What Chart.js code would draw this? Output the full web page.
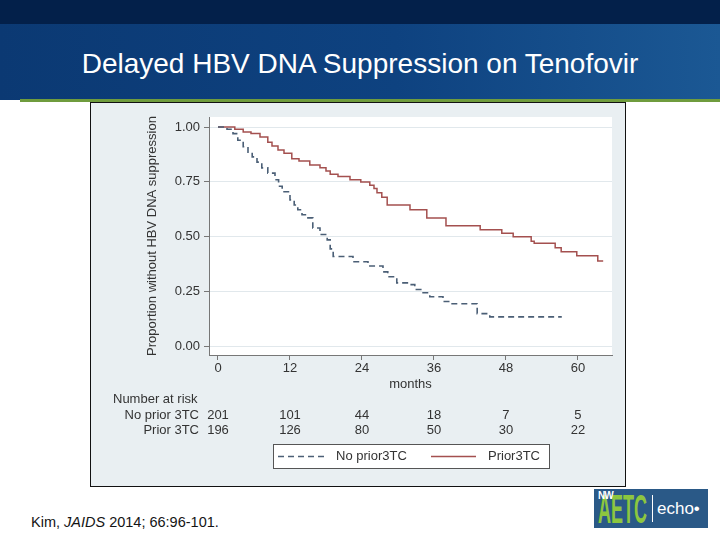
<!DOCTYPE html>
<html>
<head>
<meta charset="utf-8">
<script src="https://cdn.jsdelivr.net/npm/chart.js@4.4.0/dist/chart.umd.min.js"></script>
<style>
  html, body { margin: 0; padding: 0; }
  body { width: 720px; height: 540px; position: relative; overflow: hidden; background: #fff; font-family: "Liberation Sans", Arial, sans-serif; }
  .topBar { position: absolute; left: 0; top: 0; width: 720px; height: 24px; background: #03204a; }
  .titleBand { position: absolute; left: 0; top: 24px; width: 720px; height: 76px; background: linear-gradient(90deg, #0b3973 0%, #0e4280 55%, #1b5894 100%); }
  .greenLine { position: absolute; left: 20px; top: 99px; width: 700px; height: 3px; background: #6f9c3d; }
  .title { position: absolute; left: 0; top: 47px; width: 720px; text-align: center; color: #fff; font-size: 28px; line-height: 34px; }
  .chartBox { position: absolute; left: 90px; top: 102px; width: 534px; height: 383px; border: 1px solid #111; background: #e9eff2; }
  .cite { position: absolute; left: 31px; top: 514px; font-size: 14.5px; line-height: 16px; color: #141414; }
  .logo { position: absolute; left: 594px; top: 489px; width: 114px; height: 39px; background: #2a5987; overflow: hidden; }
  .logo .aetc { position: absolute; left: 4px; top: 0; font-size: 40px; line-height: 40px; font-weight: bold; color: #8cc63f; transform: scaleX(0.45); transform-origin: left top; }
  .logo .nw { position: absolute; left: 4px; top: 1px; font-size: 10px; font-weight: bold; color: #fff; letter-spacing: -1px; }
  .logo .sep { position: absolute; left: 58px; top: 6px; width: 1px; height: 27px; background: #fff; }
  .logo .echo { position: absolute; left: 63px; top: 10px; font-size: 17px; color: #fff; }
</style>
</head>
<body>
<div class="topBar"></div>
<div class="titleBand"></div>
<div class="greenLine"></div>
<div class="title">Delayed HBV DNA Suppression on Tenofovir</div>
<div class="chartBox"><canvas id="kmChart" width="534" height="383"></canvas></div>
<div class="cite">Kim, <i>JAIDS</i> 2014; 66:96-101.</div>
<div class="logo"><span class="aetc">AETC</span><span class="nw">NW</span><span class="sep"></span><span class="echo">echo&#8226;</span></div>

<script>
/* data */

const noPriorMonths = [0, 1.5, 2.5, 3.3, 4.2, 5.0, 5.7, 6.5, 7.3, 8.3, 9.5, 10.1, 10.7, 12.0, 12.7, 13.3, 14.0, 14.8, 15.8, 17.0, 18.2, 18.7, 19.2, 22.5, 25.0, 27.5, 28.3, 29.8, 31.7, 32.8, 34.0, 35.3, 37.5, 38.7, 43.2, 45.3, 57.3];
const noPriorSurv = [1.00, 0.99, 0.97, 0.94, 0.91, 0.885, 0.864, 0.84, 0.814, 0.79, 0.76, 0.73, 0.705, 0.668, 0.645, 0.623, 0.60, 0.586, 0.54, 0.51, 0.486, 0.445, 0.41, 0.386, 0.367, 0.34, 0.318, 0.29, 0.282, 0.26, 0.245, 0.227, 0.205, 0.195, 0.15, 0.135, 0.135];

const priorMonths = [0, 2.8, 4.2, 5.5, 7.0, 8.3, 9.0, 10.0, 11.0, 12.3, 13.5, 15.3, 17.0, 18.0, 18.7, 20.0, 22.0, 23.8, 25.3, 26.0, 26.5, 27.3, 28.2, 32.0, 34.8, 38.0, 43.7, 47.3, 49.2, 52.2, 52.7, 56.2, 57.2, 59.8, 63.3, 64.2];
const priorSurv = [1.00, 0.99, 0.977, 0.97, 0.955, 0.93, 0.914, 0.895, 0.88, 0.855, 0.845, 0.827, 0.814, 0.80, 0.785, 0.775, 0.76, 0.75, 0.735, 0.72, 0.70, 0.68, 0.645, 0.623, 0.586, 0.55, 0.532, 0.516, 0.50, 0.48, 0.47, 0.45, 0.432, 0.414, 0.39, 0.39];

const riskTimes = [0, 12, 24, 36, 48, 60];
const riskNoPrior = [201, 101, 44, 18, 7, 5];
const riskPrior = [196, 126, 80, 50, 30, 22];

const xTicks = [0, 12, 24, 36, 48, 60];
const yTicks = [0, 0.25, 0.5, 0.75, 1];

const textFont = { family: '"Liberation Sans", Arial, sans-serif', size: 13 };
const textColor = '#333';
const axisColor = '#777';

function toPoints(xs, ys) {
    return xs.map(function(x, i) { return { x: x, y: ys[i] }; });
}

/* white plot region */
const plotBackground = {
    id: 'plotBackground',
    beforeDraw: function(chart) {
        const a = chart.chartArea;
        chart.ctx.save();
        chart.ctx.fillStyle = '#fff';
        chart.ctx.fillRect(a.left, a.top, a.right - a.left, a.bottom - a.top);
        chart.ctx.restore();
    }
};

/* number at risk table + boxed legend */
const riskTable = {
    id: 'riskTable',
    afterDraw: function(chart) {
        const ctx = chart.ctx;
        const a = chart.chartArea;
        const xs = chart.scales.x;
        ctx.save();
        ctx.font = '13px "Liberation Sans", Arial, sans-serif';
        ctx.fillStyle = textColor;
        ctx.textBaseline = 'middle';

        ctx.textAlign = 'left';
        ctx.fillText('Number at risk', a.left - 96, a.bottom + 44);

        ctx.textAlign = 'right';
        ctx.fillText('No prior 3TC', a.left - 10, a.bottom + 60);
        ctx.fillText('Prior 3TC', a.left - 10, a.bottom + 75);

        ctx.textAlign = 'center';
        riskTimes.forEach(function(t, i) {
            const px = xs.getPixelForValue(t);
            ctx.fillText(String(riskNoPrior[i]), px, a.bottom + 60);
            ctx.fillText(String(riskPrior[i]), px, a.bottom + 75);
        });

        // legend
        const boxW = 276, boxH = 24;
        const boxL = Math.round((a.left + a.right) / 2 - boxW / 2);
        const boxT = a.bottom + 89;
        ctx.fillStyle = '#fff';
        ctx.fillRect(boxL, boxT, boxW, boxH);
        ctx.strokeStyle = '#555';
        ctx.lineWidth = 1;
        ctx.strokeRect(boxL + 0.5, boxT + 0.5, boxW, boxH);

        const midY = boxT + boxH / 2 + 0.5;
        const items = [
            { ds: chart.data.datasets[0], x0: 5, x1: 55, tx: 63 },
            { ds: chart.data.datasets[1], x0: 158, x1: 203, tx: 215 }
        ];
        items.forEach(function(it) {
            ctx.beginPath();
            ctx.strokeStyle = it.ds.borderColor;
            ctx.lineWidth = it.ds.borderWidth;
            ctx.setLineDash(it.ds.borderDash || []);
            ctx.moveTo(boxL + it.x0, midY);
            ctx.lineTo(boxL + it.x1, midY);
            ctx.stroke();
            ctx.setLineDash([]);
            ctx.fillStyle = textColor;
            ctx.textAlign = 'left';
            ctx.fillText(it.ds.label, boxL + it.tx, midY);
        });
        ctx.restore();
    }
};

const ctx = document.getElementById('kmChart').getContext('2d');

const chart = new Chart(ctx, {
    type: 'line',
    data: {
        datasets: [{
            label: 'No prior3TC',
            data: toPoints(noPriorMonths, noPriorSurv),
            borderColor: '#4b5f76',
            borderWidth: 1.6,
            borderDash: [6, 4],
            stepped: true,
            pointRadius: 0,
            fill: false
        },
        {
            label: 'Prior3TC',
            data: toPoints(priorMonths, priorSurv),
            borderColor: '#a4504f',
            borderWidth: 1.5,
            stepped: true,
            pointRadius: 0,
            fill: false
        }]
    },
    options: {
        responsive: false,
        animation: false,
        devicePixelRatio: 1,
        layout: { padding: { left: 48, right: 13, top: 14, bottom: 91 } },
        plugins: {
            legend: { display: false },
            tooltip: { enabled: false }
        },
        scales: {
            x: {
                type: 'linear',
                min: -1.5,
                max: 65.67,
                afterBuildTicks: function(s) { s.ticks = xTicks.map(function(v) { return { value: v }; }); },
                afterFit: function(s) { s.height = 40; },
                ticks: { font: textFont, color: textColor, padding: 1, maxRotation: 0 },
                grid: { drawOnChartArea: false, tickLength: 5, tickColor: axisColor },
                border: { color: axisColor, width: 1 },
                title: { display: true, text: 'months', font: textFont, color: textColor, padding: { top: 0, bottom: 3 } }
            },
            y: {
                type: 'linear',
                min: -0.0387,
                max: 1.0456,
                afterBuildTicks: function(s) { s.ticks = yTicks.map(function(v) { return { value: v }; }); },
                afterFit: function(s) { s.width = 70; },
                ticks: { font: textFont, color: textColor, padding: 4, callback: function(v) { return v.toFixed(2); } },
                grid: { color: '#e1e8ec', tickLength: 5, tickColor: axisColor },
                border: { color: axisColor, width: 1 },
                title: { display: true, text: 'Proportion without HBV DNA suppression', font: textFont, color: textColor, padding: { top: 6, bottom: 0 } }
            }
        }
    },
    plugins: [plotBackground, riskTable]
});
</script>
</body>
</html>
